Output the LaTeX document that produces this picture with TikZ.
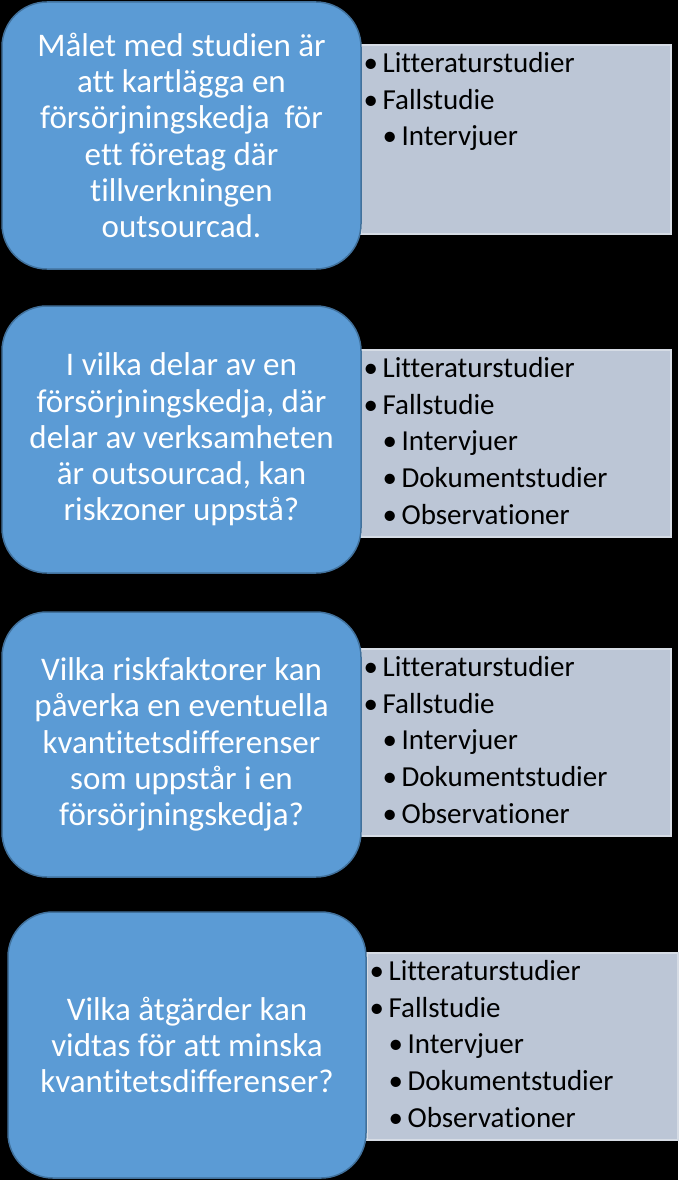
\documentclass[tikz,border=0pt]{standalone}
\usepackage{fontspec}
\setmainfont{Carlito}[Ligatures={NoCommon}]
\usetikzlibrary{calc}
\definecolor{bluefill}{HTML}{5B9BD5}
\definecolor{blueline}{HTML}{41719C}
\definecolor{grayfill}{HTML}{BCC6D6}
\definecolor{grayline}{HTML}{D6DCE5}
\newcommand{\lsitem}[1]{\makebox[16pt][l]{\hspace{-3pt}•}#1}
\newcommand{\lssub}[1]{\hspace{19pt}\makebox[16pt][l]{\hspace{-3pt}•}#1}
\begin{document}
\begin{tikzpicture}[x=1pt,y=-1pt,
  bluebox/.style={draw=blueline, line width=1.5pt, fill=bluefill, rounded corners=45pt,
    text=white, align=center, font=\fontsize{33}{36.2}\selectfont, inner sep=0pt},
  graybox/.style={draw=grayline, line width=1.2pt, fill=grayfill, inner sep=0pt},
  listtext/.style={anchor=north west, align=left, inner sep=0pt, text=black,
    font=\fontsize{29}{36.8}\selectfont}]
\fill[black] (0,0) rectangle (678,1180);
\useasboundingbox (0,0) rectangle (678,1180);

% gray panels
\node[graybox, minimum width=310, minimum height=189] (g1) at (516,139.5) {};
\node[graybox, minimum width=310, minimum height=187] (g2) at (516,443.5) {};
\node[graybox, minimum width=310, minimum height=187] (g3) at (516,742.5) {};
\node[graybox, minimum width=311, minimum height=187] (g4) at (522.5,1046.5) {};

% blue boxes
\node[bluebox, minimum width=359, minimum height=267] (b1) at (181.5,135.5)
  {Målet med studien är\\att kartlägga en\\försörjningskedja \ för\\ett företag där\\tillverkningen\\outsourcad.};
\node[bluebox, minimum width=359, minimum height=267] (b2) at (181.5,439.5)
  {I vilka delar av en\\försörjningskedja, där\\delar av verksamheten\\är outsourcad, kan\\riskzoner uppstå?};
\node[bluebox, minimum width=359, minimum height=265] (b3) at (181.5,744.5)
  {Vilka riskfaktorer kan\\påverka en eventuella\\kvantitetsdifferenser\\som uppstår i en\\försörjningskedja?};
\node[bluebox, minimum width=358, minimum height=266] (b4) at (187,1045)
  {Vilka åtgärder kan\\vidtas för att minska\\kvantitetsdifferenser?};

% lists
\node[listtext] (l1) at ($(g1.north west)+(6,7.5)$)
  {\lsitem{Litteraturstudier}\\\lsitem{Fallstudie}\\\lssub{Intervjuer}};
\node[listtext] (l2) at ($(g2.north west)+(6,7.5)$)
  {\lsitem{Litteraturstudier}\\\lsitem{Fallstudie}\\\lssub{Intervjuer}\\\lssub{Dokumentstudier}\\\lssub{Observationer}};
\node[listtext] (l3) at ($(g3.north west)+(6,7.5)$)
  {\lsitem{Litteraturstudier}\\\lsitem{Fallstudie}\\\lssub{Intervjuer}\\\lssub{Dokumentstudier}\\\lssub{Observationer}};
\node[listtext] (l4) at ($(g4.north west)+(6,7.5)$)
  {\lsitem{Litteraturstudier}\\\lsitem{Fallstudie}\\\lssub{Intervjuer}\\\lssub{Dokumentstudier}\\\lssub{Observationer}};
\end{tikzpicture}
\end{document}
